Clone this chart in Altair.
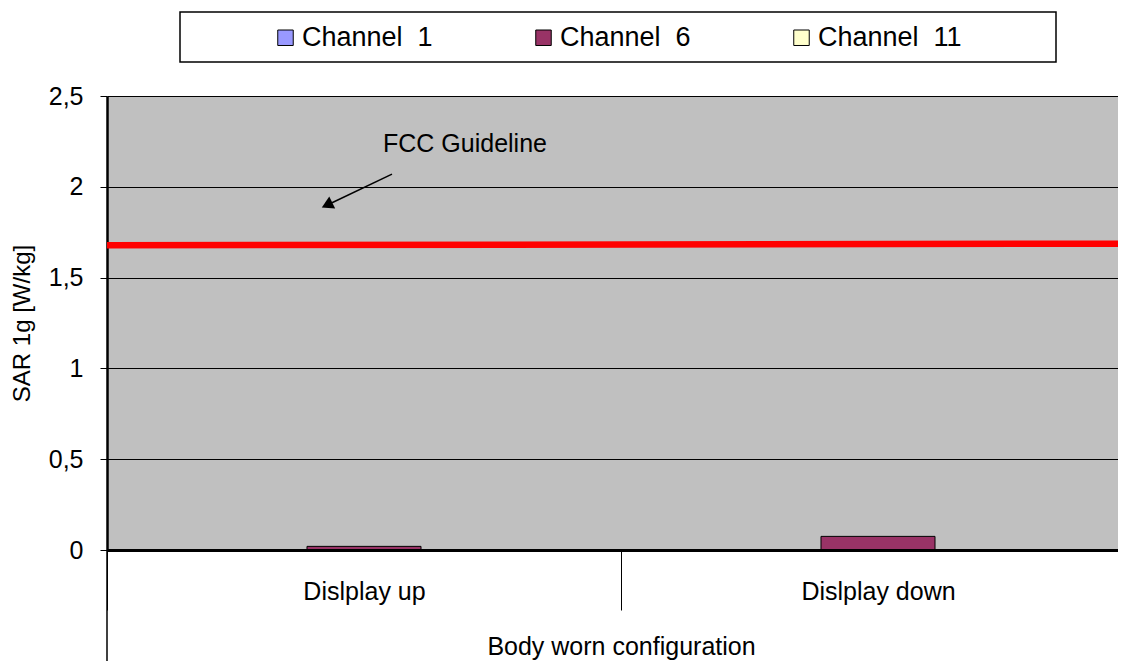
import altair as alt
import pandas as pd

# ---- data ----
categories = ["Dislplay up", "Dislplay down"]
channels = ["Channel 1", "Channel 6", "Channel 11"]
channel_colors = ["#9999FF", "#993366", "#FFFFCC"]
ch1_values = [0.0, 0.0]
ch6_values = [0.02, 0.075]
ch11_values = [0.0, 0.0]
y_ticks = [0, 0.5, 1, 1.5, 2, 2.5]
fcc_start = [1.678]
fcc_end = [1.687]
group_title = "Body worn configuration"
y_title = "SAR 1g [W/kg]"
annotation_text = ["FCC Guideline"]
annotation_y = [2.193]
arrow_from_y = [2.070]
arrow_to_y = [1.912]
arrow_head_y = [1.900]

FONT = "Liberation Sans"
W, H = 1011, 454
XR = 1028  # x range (plot continues past the window edge)

rows = []
for ch, vals in zip(channels, [ch1_values, ch6_values, ch11_values]):
    for c, v in zip(categories, vals):
        rows.append({"config": c, "channel": ch, "sar": v})
df = pd.DataFrame(rows)

y_scale = alt.Scale(domain=[0, 2.5], nice=False)
x_scale = alt.Scale(domain=categories, range=[0, XR], paddingInner=0, paddingOuter=0)

bars = alt.Chart(df).mark_bar(stroke="black", strokeWidth=1).encode(
    x=alt.X("config:N", scale=x_scale, axis=alt.Axis(
        title=group_title, titleFont=FONT, titleFontSize=25, titleFontWeight="normal",
        titleColor="black", titleX=XR / 2, titleY=104, titleBaseline="alphabetic",
        titleAlign="center",
        labelFont=FONT, labelFontSize=25, labelColor="black", labelBaseline="alphabetic",
        labelPadding=-11, labelAngle=0,
        tickBand="extent", tickSize=60, tickColor="black", tickWidth=1,
        domainColor="black", domainWidth=3, grid=False, zindex=1)),
    xOffset=alt.XOffset("channel:N", scale=alt.Scale(domain=channels, paddingInner=0, paddingOuter=0.754)),
    y=alt.Y("sar:Q", scale=y_scale, title=y_title, axis=alt.Axis(
        values=y_ticks, labelExpr="replace(toString(datum.value), '.', ',')",
        labelFont=FONT, labelFontSize=25, labelColor="black", labelPadding=17,
        tickSize=7, tickColor="black", tickWidth=1,
        domainColor="black", domainWidth=2.5,
        grid=True, gridColor="black", gridWidth=1, gridOpacity=1,
        titleFont=FONT, titleFontSize=24, titleFontWeight="normal", titleColor="black",
        titleX=-85, titleY=H / 2, titleAngle=270, titleBaseline="middle", titleAlign="center")),
    color=alt.Color("channel:N", scale=alt.Scale(domain=channels, range=channel_colors),
                    legend=alt.Legend(
                        title=None, orient="none", legendX=165, legendY=-72,
                        direction="horizontal", columns=3, gridAlign="all", columnPadding=84,
                        symbolType="square", symbolSize=240, symbolStrokeColor="black",
                        symbolStrokeWidth=1, symbolOpacity=1,
                        labelFont=FONT, labelFontSize=27, labelColor="black", labelOffset=3,
                        labelExpr="replace(datum.label, ' ', '\u00a0\u00a0')",
                        padding=0)),
)

box = alt.Chart(pd.DataFrame({"k": [0]})).mark_rect(
    fill="white", stroke="black", strokeWidth=1.5, clip=False
).encode(x=alt.value(73), x2=alt.value(949), y=alt.value(-84), y2=alt.value(-34))

fcc = alt.Chart(pd.DataFrame({"y0": fcc_start, "y1": fcc_end})).mark_rule(
    color="#FF0000", strokeWidth=6.5
).encode(x=alt.value(0), x2=alt.value(XR),
         y=alt.Y("y0:Q", scale=y_scale, title=y_title), y2="y1:Q")

ext = alt.Chart(pd.DataFrame({"k": [0]})).mark_rule(
    color="black", strokeWidth=1.5, clip=False
).encode(x=alt.value(0), y=alt.value(H), y2=alt.value(H + 130))

ann = pd.DataFrame({"t": annotation_text, "ty": annotation_y,
                    "a0": arrow_from_y, "a1": arrow_to_y, "h": arrow_head_y})

arrow = alt.Chart(ann).mark_rule(color="black", strokeWidth=1.5).encode(
    x=alt.value(285), x2=alt.value(225),
    y=alt.Y("a0:Q", scale=y_scale, title=y_title), y2="a1:Q")

head = alt.Chart(ann).mark_point(
    shape="triangle-up", filled=True, color="black", opacity=1, size=180, angle=244
).encode(x=alt.value(220), y=alt.Y("h:Q", scale=y_scale, title=y_title))

label = alt.Chart(ann).mark_text(
    font=FONT, fontSize=25, align="left", baseline="alphabetic", color="black"
).encode(x=alt.value(276), y=alt.Y("ty:Q", scale=y_scale, title=y_title), text="t:N")

chart = alt.layer(box, bars, fcc, ext, arrow, head, label).properties(
    width=W, height=H,
    autosize=alt.AutoSizeParams(type="none"),
    padding={"left": 99, "top": 88, "right": 0, "bottom": 111},
).configure(font=FONT, background="white").configure_view(fill="#C0C0C0", stroke="transparent")

chart.save("out.html", embed_options={"renderer": "svg", "actions": False})
